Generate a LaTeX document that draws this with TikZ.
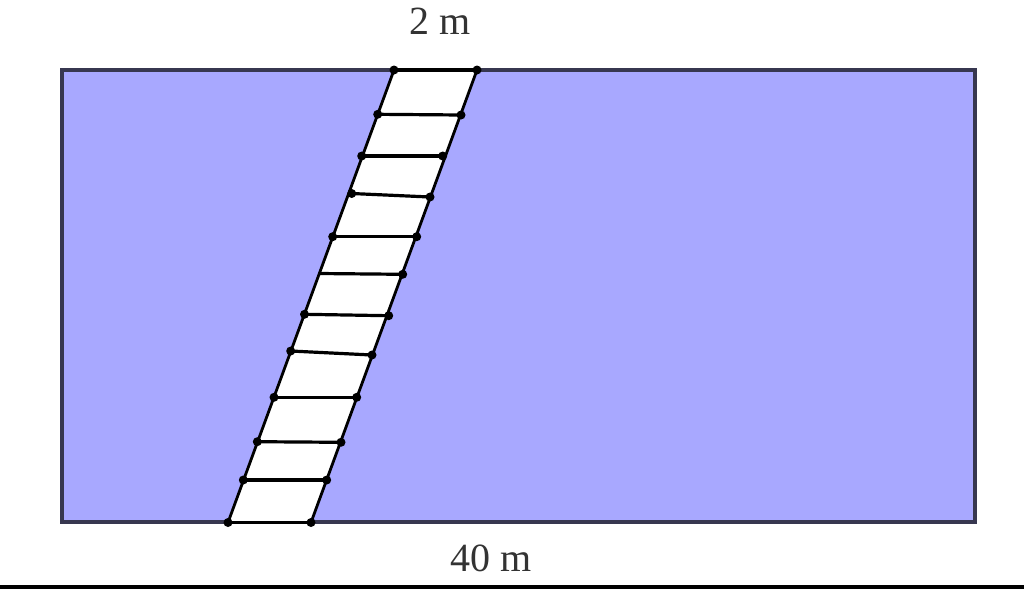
\documentclass[tikz,border=0pt]{standalone}
\usepackage{fontspec}
\setmainfont{Liberation Serif}
\begin{document}
\begin{tikzpicture}[x=1pt,y=-1pt,
  field/.style={fill=fieldblue,draw=edgegray,line width=3.4pt},
  rail/.style={draw=black,line width=2.8pt},
  rung/.style={draw=black,line width=3.2pt},
  joint/.style={fill=black},
  lbl/.style={font=\fontsize{40}{44}\selectfont,text=black!80,anchor=base,inner sep=0pt}]
\definecolor{fieldblue}{RGB}{168,168,255}
\definecolor{edgegray}{RGB}{55,55,80}
\useasboundingbox (0,0) rectangle (1024,589);
\fill[white] (0,0) rectangle (1024,589);
% field
\path[field] (62,70) rectangle (975,522);
% strip
\coordinate (L0) at (394,70);   \coordinate (R0) at (477,70);
\coordinate (L1) at (377.7,114.3); \coordinate (R1) at (461,115);
\coordinate (L2) at (361.7,156);   \coordinate (R2) at (442.7,156);
\coordinate (L3) at (351.7,193.5); \coordinate (R3) at (430,197);
\coordinate (L4) at (332.7,236.7); \coordinate (R4) at (416.7,236.7);
\coordinate (L5) at (318.5,273.5); \coordinate (R5) at (402.7,274.3);
\coordinate (L6) at (304.5,314.3); \coordinate (R6) at (388.7,315.7);
\coordinate (L7) at (290.7,351);   \coordinate (R7) at (372,355);
\coordinate (L8) at (274,397.3);   \coordinate (R8) at (356.7,397.3);
\coordinate (L9) at (257.3,441.7); \coordinate (R9) at (341,442.3);
\coordinate (L10) at (243.3,480);  \coordinate (R10) at (326.7,480);
\coordinate (L11) at (228,522.5);  \coordinate (R11) at (311,522.5);
\fill[white] (L0) -- (R0) -- (R11) -- (L11) -- cycle;
\draw[rail] (L0) -- (L11);
\draw[rail] (R0) -- (R11);
\foreach \i in {0,...,11} {
  \draw[rung] (L\i) -- (R\i);
}
\foreach \i in {0,1,2,3,4,6,7,8,9,10,11} {
  \fill[joint] (L\i) circle (4.5);
}
\foreach \i in {0,...,11} {
  \fill[joint] (R\i) circle (4.5);
}
% labels
\node[lbl] (top) at (440,34) {2 m};
\node[lbl] (bot) at (491,571) {40 m};
% bottom edge line
\draw[line width=4pt,black] (0,587) -- (1024,587);
\end{tikzpicture}
\end{document}
